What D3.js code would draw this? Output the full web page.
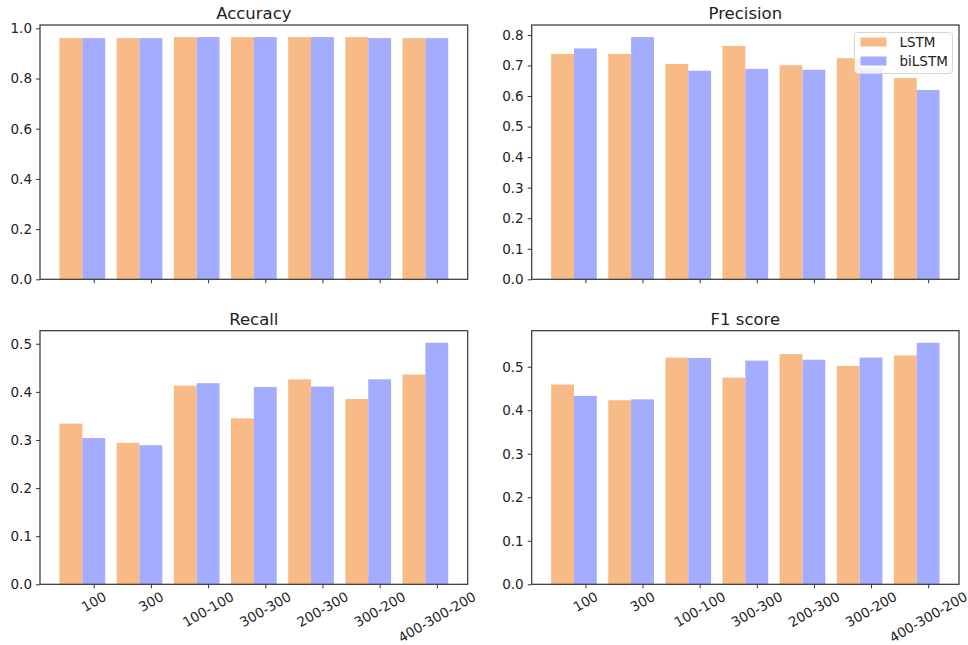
<!DOCTYPE html>
<html>
<head>
<meta charset="utf-8">
<script src="https://cdn.jsdelivr.net/npm/d3@7"></script>
<style>
  body { margin: 0; background: #fff; }
  svg text { font-family: "DejaVu Sans", sans-serif; fill: #222; }
  .tick-label { font-size: 13.5px; }
  .title { font-size: 16.5px; }
  .spine { fill: none; stroke: #333; stroke-width: 1.2; }
</style>
</head>
<body>
<svg id="chart" width="968" height="645"></svg>
<script>
// categories (network layer sizes)
var categories = ['100', '300', '100-100', '300-300', '200-300', '300-200', '400-300-200'];
var seriesNames = ['LSTM', 'biLSTM'];

// values
var accuracyLSTM = [0.961, 0.961, 0.965, 0.965, 0.965, 0.965, 0.961];
var accuracyBiLSTM = [0.961, 0.961, 0.965, 0.965, 0.965, 0.961, 0.961];
var precisionLSTM = [0.738, 0.738, 0.705, 0.764, 0.701, 0.724, 0.659];
var precisionBiLSTM = [0.756, 0.793, 0.683, 0.689, 0.686, 0.690, 0.620];
var recallLSTM = [0.334, 0.294, 0.413, 0.345, 0.426, 0.385, 0.436];
var recallBiLSTM = [0.304, 0.289, 0.418, 0.410, 0.411, 0.426, 0.502];
var f1LSTM = [0.459, 0.423, 0.521, 0.475, 0.529, 0.502, 0.526];
var f1BiLSTM = [0.433, 0.425, 0.520, 0.514, 0.516, 0.521, 0.555];

var yTicksAcc = [0, 0.2, 0.4, 0.6, 0.8, 1.0];
var yTicksPrec = [0, 0.1, 0.2, 0.3, 0.4, 0.5, 0.6, 0.7, 0.8];
var yTicksRec = [0, 0.1, 0.2, 0.3, 0.4, 0.5];
var yTicksF1 = [0, 0.1, 0.2, 0.3, 0.4, 0.5];

var COLOR_LSTM = '#f8bb87';
var COLOR_BI = '#a4acfd';

var svg = d3.select('#chart');

// one panel: box = [left, right, top, bottom]
var drawPanel = function (box, title, lstm, bilstm, yTicks, showLabels, showLegend) {
    var left = box[0], right = box[1], top = box[2], bottom = box[3];
    var g = svg.append('g');

    var x = d3.scaleLinear()
        .domain([-0.6 - 0.34, categories.length - 1 + 0.2 + 0.34])
        .range([left, right]);
    var ymax = d3.max(lstm.concat(bilstm)) * 1.05;
    var y = d3.scaleLinear()
        .domain([0, ymax])
        .range([bottom, top]);

    g.selectAll('rect.lstm')
        .data(lstm)
        .enter().append('rect')
        .attr('class', 'lstm')
        .attr('x', function (d, i) { return x(i - 0.6); })
        .attr('width', function (d, i) { return x(i - 0.2) - x(i - 0.6); })
        .attr('y', function (d) { return y(d); })
        .attr('height', function (d) { return bottom - y(d); })
        .style('fill', COLOR_LSTM);

    g.selectAll('rect.bi')
        .data(bilstm)
        .enter().append('rect')
        .attr('class', 'bi')
        .attr('x', function (d, i) { return x(i - 0.2); })
        .attr('width', function (d, i) { return x(i + 0.2) - x(i - 0.2); })
        .attr('y', function (d) { return y(d); })
        .attr('height', function (d) { return bottom - y(d); })
        .style('fill', COLOR_BI);

    // y axis
    var yAxis = d3.axisLeft(y)
        .tickValues(yTicks)
        .tickFormat(d3.format('.1f'))
        .tickSize(4)
        .tickPadding(4);
    var ya = g.append('g')
        .attr('transform', 'translate(' + left + ',0)')
        .call(yAxis);
    ya.select('.domain').remove();
    ya.selectAll('text').attr('class', 'tick-label').style('font-family', '"DejaVu Sans", sans-serif').attr('fill', '#222');
    ya.selectAll('line').attr('stroke', '#333');

    // x axis
    var xAxis = d3.axisBottom(x)
        .tickValues(d3.range(categories.length))
        .tickFormat('')
        .tickSize(4);
    var xa = g.append('g')
        .attr('transform', 'translate(0,' + bottom + ')')
        .call(xAxis);
    xa.select('.domain').remove();
    xa.selectAll('line').attr('stroke', '#333');

    if (showLabels) {
        var labelTop = bottom + 6;
        categories.forEach(function (c, i) {
            var t = g.append('text')
                .text(c)
                .attr('class', 'tick-label')
                .attr('text-anchor', 'middle')
                .attr('dominant-baseline', 'central');
            var w = t.node().getComputedTextLength();
            var h = 11;
            var bh = w * Math.sin(Math.PI / 6) + h * Math.cos(Math.PI / 6);
            var cy = labelTop + bh / 2;
            t.attr('transform', 'translate(' + x(i) + ',' + cy + ') rotate(-30)');
        });
    }

    // frame
    g.append('rect')
        .attr('class', 'spine')
        .attr('x', left)
        .attr('y', top)
        .attr('width', right - left)
        .attr('height', bottom - top);

    g.append('text')
        .text(title)
        .attr('class', 'title')
        .attr('text-anchor', 'middle')
        .attr('x', (left + right) / 2)
        .attr('y', top - 6);

    if (showLegend) {
        var lg = g.append('g').attr('transform', 'translate(854.5,32.5)');
        lg.append('rect')
            .attr('width', 98)
            .attr('height', 41)
            .attr('rx', 3)
            .style('fill', 'rgba(255,255,255,0.8)')
            .style('stroke', '#d6d6d6');
        var colors = [COLOR_LSTM, COLOR_BI];
        seriesNames.forEach(function (s, i) {
            lg.append('rect')
                .attr('x', 6)
                .attr('y', 5 + i * 19)
                .attr('width', 26)
                .attr('height', 9)
                .style('fill', colors[i]);
            lg.append('text')
                .text(s)
                .attr('class', 'tick-label')
                .attr('x', 45)
                .attr('y', 14.5 + i * 19);
        });
    }
};

drawPanel([40, 467.7, 25, 279.3], 'Accuracy', accuracyLSTM, accuracyBiLSTM, yTicksAcc, false, false);
drawPanel([531.7, 959, 25, 279.3], 'Precision', precisionLSTM, precisionBiLSTM, yTicksPrec, false, true);
drawPanel([40, 467.7, 330.7, 584.3], 'Recall', recallLSTM, recallBiLSTM, yTicksRec, true, false);
drawPanel([531.7, 959, 330.7, 584.3], 'F1 score', f1LSTM, f1BiLSTM, yTicksF1, true, false);
</script>
</body>
</html>
